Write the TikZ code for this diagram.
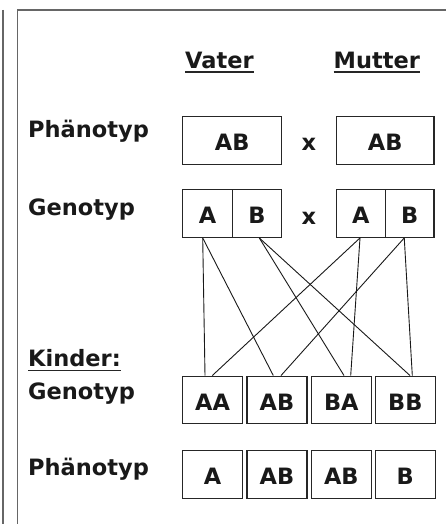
\documentclass[tikz,border=0pt]{standalone}
\usepackage{fontspec}
\setmainfont{DejaVu Sans}
\usetikzlibrary{calc}
\tikzset{
  framestyle/.style={draw=black!60, line width=1.6pt},
  lab/.style={inner sep=0pt, anchor=base west, font=\fontsize{22.5}{27}\selectfont\bfseries, text=black!90},
  box/.style={draw=black!85, line width=1.1pt, inner sep=0pt, minimum height=47.5pt,
    text height=20.5pt, text depth=0pt, font=\fontsize{22.5}{27}\selectfont\bfseries, text=black!90},
  cross/.style={inner sep=0pt, anchor=base, font=\fontsize{22.5}{27}\selectfont\bfseries, text=black!90},
  uline/.style={draw=black!85, line width=1.3pt},
  conn/.style={draw=black!90, line width=0.9pt}
}
\begin{document}
\begin{tikzpicture}[x=1pt,y=-1pt]
\useasboundingbox (0,0) rectangle (446,524);
\fill[white] (0,0) rectangle (446,524);
% frames
\draw[framestyle] (3,10) -- (3,524);
\draw[framestyle] (446,10) -- (17.5,10) -- (17.5,524);
% headers
\node[lab] (vater) at (185,68.3) {Vater};
\node[lab] (mutter) at (333.5,68.3) {Mutter};
\draw[uline] ([yshift=-3.6pt]vater.base west) -- ([yshift=-3.6pt]vater.base east);
\draw[uline] ([yshift=-3.6pt]mutter.base west) -- ([yshift=-3.6pt]mutter.base east);
% row labels
\node[lab] (lp1) at (28,137) {Phänotyp};
\node[lab] (lg1) at (28,215.5) {Genotyp};
\node[lab] (lk) at (28,366.7) {Kinder:};
\draw[uline] ([yshift=-4pt]lk.base west) -- ([yshift=-4pt]lk.base east);
\node[lab] (lg2) at (28,399) {Genotyp};
\node[lab] (lp2) at (28,475) {Phänotyp};
% parents phenotype
\node[box, minimum width=99pt] (pv) at (232.2,140.5) {AB};
\node[box, minimum width=97.7pt] (pm) at (385.15,140.5) {AB};
\node[cross] (x1) at (309,150.5) {x};
% parents genotype
\node[box, minimum width=49.6pt] (gva) at (207.5,213.65) {A};
\node[box, minimum width=49.4pt] (gvb) at (257,213.65) {B};
\node[box, minimum width=49pt] (gma) at (360.8,213.65) {A};
\node[box, minimum width=48.7pt] (gmb) at (409.65,213.65) {B};
\node[cross] (x2) at (309,224.5) {x};
% children genotype
\node[box, minimum width=59.6pt] (kaa) at (212.5,399.85) {AA};
\node[box, minimum width=60pt] (kab) at (277,399.85) {AB};
\node[box, minimum width=60pt] (kba) at (341.3,399.85) {BA};
\node[box, minimum width=60pt] (kbb) at (405.3,399.85) {BB};
% children phenotype
\node[box, minimum width=59.6pt] (paa) at (212.5,474.6) {A};
\node[box, minimum width=60pt] (pab) at (277,474.6) {AB};
\node[box, minimum width=60pt] (pba) at (341.3,474.6) {AB};
\node[box, minimum width=60pt] (pbb) at (405.3,474.6) {B};
% connectors
\draw[conn] ([xshift=-4.8pt]gva.south) -- ([xshift=-7.5pt]kaa.north);
\draw[conn] ([xshift=-4.8pt]gva.south) -- ([xshift=-3.7pt]kab.north);
\draw[conn] ([xshift=2.3pt]gvb.south) -- ([xshift=2.7pt]kba.north);
\draw[conn] ([xshift=2.3pt]gvb.south) -- ([xshift=4.7pt]kbb.north);
\draw[conn] ([xshift=-0.8pt]gma.south) -- ([xshift=-0.2pt]kaa.north);
\draw[conn] ([xshift=-0.8pt]gma.south) -- ([xshift=9.4pt]kba.north);
\draw[conn] ([xshift=-5.4pt]gmb.south) -- ([xshift=4pt]kab.north);
\draw[conn] ([xshift=-5.4pt]gmb.south) -- ([xshift=7pt]kbb.north);
\end{tikzpicture}
\end{document}
